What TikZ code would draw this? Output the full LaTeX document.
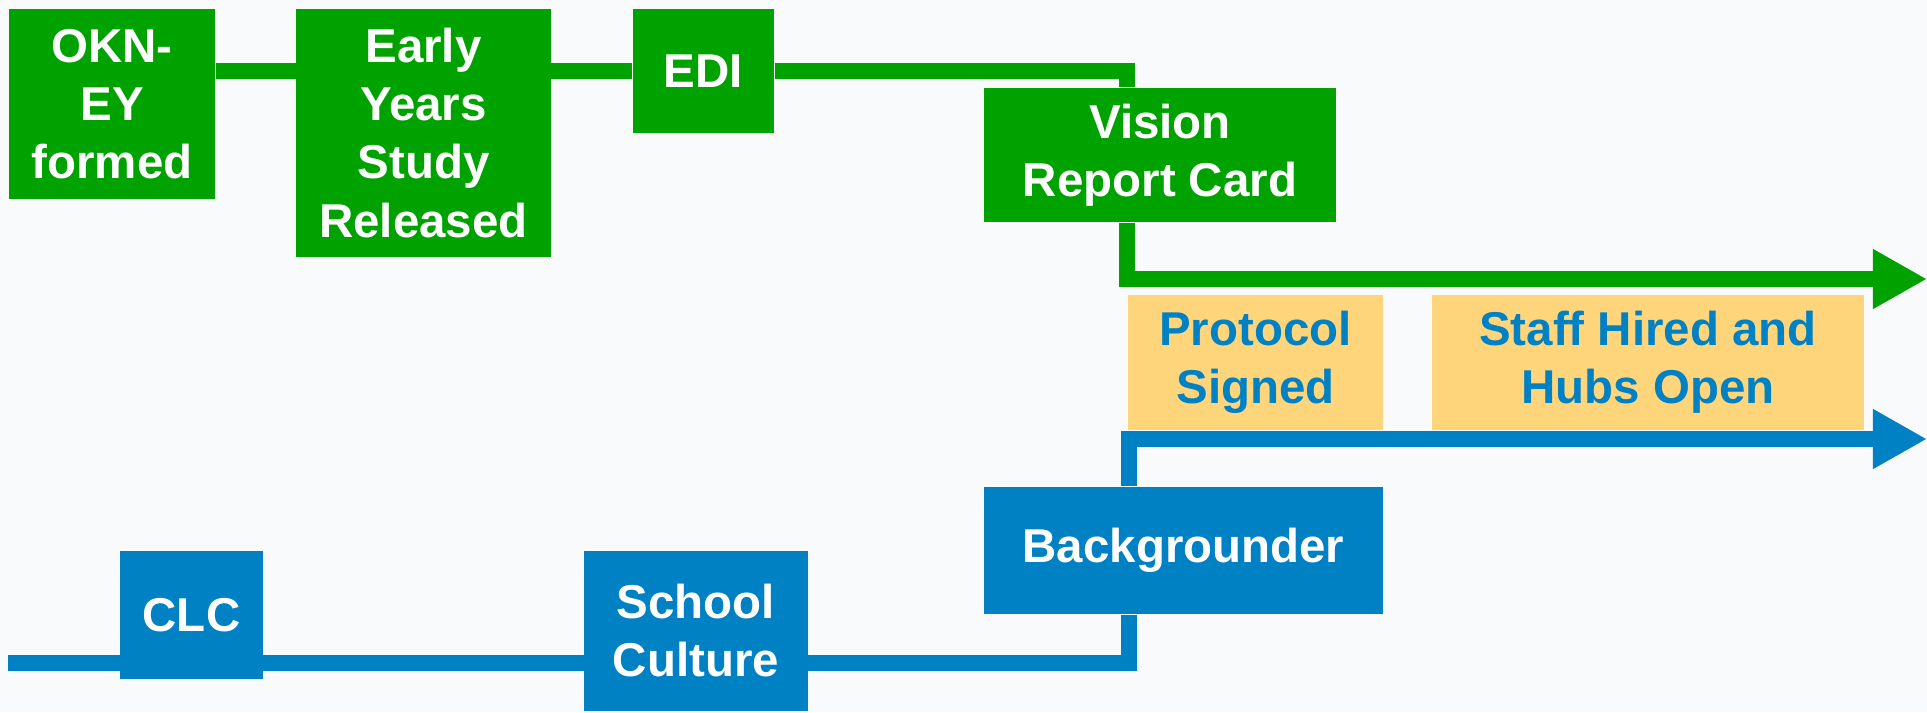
\documentclass[tikz,border=0pt]{standalone}
\usepackage{fontspec}
\setmainfont{Liberation Sans}
\usetikzlibrary{arrows.meta,backgrounds}
\definecolor{eygreen}{HTML}{00A200}
\definecolor{eyblue}{HTML}{0081C3}
\definecolor{eyorange}{HTML}{FFD57C}
\definecolor{eybg}{HTML}{F9FAFB}
\tikzset{
  event/.style={inner sep=0pt, align=center, font=\fontsize{13.5}{16.5}\selectfont\bfseries},
  greenbox/.style={event, fill=eygreen, text=white},
  bluebox/.style={event, fill=eyblue, text=white},
  orangebox/.style={event, fill=eyorange, text=eyblue},
  greenline/.style={draw=eygreen, line width=0.16cm},
  blueline/.style={draw=eyblue, line width=0.16cm},
  timeline/.style={-{Triangle[length=0.54cm,width=0.56cm]}}
}
\begin{document}
\begin{tikzpicture}[x=0.01cm, y=-0.01cm]
\useasboundingbox (0,0) rectangle (1927,712);
\node[greenbox, minimum width=2.06cm, minimum height=1.90cm] (okn) at (112,104) {OKN-\\EY\\formed};
\node[greenbox, minimum width=2.55cm, minimum height=2.48cm] (early) at (423.5,133) {Early\\Years\\Study\\Released};
\node[greenbox, minimum width=1.41cm, minimum height=1.24cm] (edi) at (703.5,71) {EDI};
\node[greenbox, minimum width=3.52cm, minimum height=1.34cm] (vision) at (1160,155) {Vision\\Report Card};
\node[orangebox, minimum width=2.55cm, minimum height=1.35cm] (protocol) at (1255.5,362.5) {Protocol\\Signed};
\node[orangebox, minimum width=4.32cm, minimum height=1.35cm] (staff) at (1648,362.5) {Staff Hired and\\Hubs Open};
\node[bluebox, minimum width=3.99cm, minimum height=1.27cm] (backgr) at (1183.5,550.5) {Backgrounder};
\node[bluebox, minimum width=1.43cm, minimum height=1.28cm] (clc) at (191.5,615) {CLC};
\node[bluebox, minimum width=2.24cm, minimum height=1.60cm] (school) at (696,631) {School\\Culture};
\coordinate (gturn) at (1127,71);
\coordinate (gend) at (1927,279);
\coordinate (bstart) at (8,663);
\coordinate (bturn) at (1128.5,663);
\coordinate (bend) at (1927,439);
\begin{scope}[on background layer]
\fill[eybg] (0,0) rectangle (1927,712);
\draw[greenline] (okn.east |- edi) -- (edi.west);
\draw[greenline] (edi.east) -| (vision.north -| gturn);
\draw[greenline, timeline] (vision.south -| gturn) |- (gend);
\draw[blueline] (bstart) -| (backgr.south -| bturn);
\draw[blueline, timeline] (backgr.north -| bturn) |- (bend);
\end{scope}
\end{tikzpicture}
\end{document}
